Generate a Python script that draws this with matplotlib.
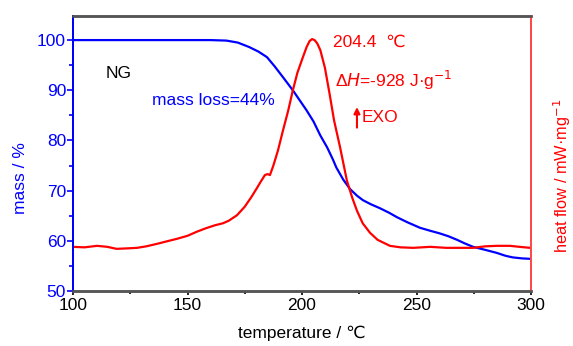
import matplotlib
matplotlib.use("Agg")
import matplotlib.pyplot as plt
from matplotlib.ticker import MultipleLocator, NullLocator

plt.rcParams['font.family'] = ['Liberation Sans', 'DejaVu Sans']

# Mass (TG) curve
temp_mass = [100, 120, 140, 160, 167, 172, 177, 181, 184.7, 188, 191.7, 196, 199, 202, 205,
             208, 211, 213.5, 215, 218, 221, 224, 226.6, 230, 234, 238, 241.5, 246, 251.5,
             256, 260, 264, 267.7, 271, 274.7, 280, 285, 289, 292, 296, 300]
mass = [100, 100, 100, 100, 99.9, 99.5, 98.6, 97.7, 96.6, 94.8, 92.6, 90.0, 88.0, 86.0, 83.8,
        81.0, 78.6, 76.2, 74.6, 72.2, 70.3, 69.0, 68.1, 67.3, 66.5, 65.6, 64.7, 63.7, 62.6,
        62.0, 61.5, 60.9, 60.2, 59.5, 58.8, 58.2, 57.6, 57.0, 56.7, 56.5, 56.4]

# Heat flow (DSC) curve, arbitrary units
temp_heat = [100, 105, 110.5, 115, 119, 124, 128, 132, 136.7, 141, 145.4, 150, 154, 158,
             162, 165.5, 168, 171.6, 175, 178, 180.3, 182, 183.8, 185, 186, 187.5, 189.5,
             191.7, 194, 196, 198, 200.4, 202, 203.3, 204.4, 205.5, 206.7, 208, 210, 212,
             214, 216.6, 219.6, 222, 224, 226.5, 229.7, 233, 238.4, 243, 248.5, 256, 263,
             268, 274.7, 280, 285, 290.8, 295, 299.6]
heat = [58.8, 58.7, 59.0, 58.8, 58.4, 58.5, 58.6, 58.9, 59.4, 59.9, 60.4, 61.0, 61.8, 62.5,
        63.1, 63.5, 64.0, 65.1, 66.8, 68.8, 70.5, 71.8, 73.1, 73.3, 73.1, 75.0, 78.0,
        82.0, 86.0, 90.0, 93.5, 96.6, 98.6, 99.8, 100.2, 100.0, 99.3, 98.0, 94.5, 89.4,
        84.0, 78.7, 72.0, 68.5, 66.0, 63.5, 61.6, 60.2, 59.0, 58.7, 58.6, 58.8, 58.6,
        58.6, 58.6, 58.9, 59.0, 59.0, 58.8, 58.6]

fig = plt.figure(figsize=(5.73, 3.46), dpi=100)
ax = fig.add_axes([73/573, 1-291/346, (531-73)/573, (291-16)/346])
ax2 = ax.twinx()

ax.plot(temp_mass, mass, color='#0000ff', lw=1.6, zorder=3)
ax2.plot(temp_heat, heat, color='#ff0000', lw=1.6)

ax.set_xlim(100, 300)
ax.set_ylim(50, 104.8)
ax2.set_ylim(50, 104.8)

ax.xaxis.set_major_locator(MultipleLocator(50))
ax.xaxis.set_minor_locator(MultipleLocator(25))
ax.yaxis.set_major_locator(MultipleLocator(10))
ax.yaxis.set_minor_locator(MultipleLocator(5))
ax2.yaxis.set_major_locator(NullLocator())
ax2.yaxis.set_minor_locator(NullLocator())

ax.tick_params(axis='x', which='both', direction='out', colors='black', labelsize=12.5,
               length=3, width=1.2, pad=2)
ax.tick_params(axis='x', which='minor', length=2)
ax.tick_params(axis='y', which='both', direction='out', colors='#0000ff', labelsize=12.5,
               length=4, width=1.2, pad=1)
ax.tick_params(axis='y', which='minor', length=3)

for a in (ax, ax2):
    a.spines['top'].set_color('#555555')
    a.spines['top'].set_linewidth(1.8)
    a.spines['bottom'].set_color('#555555')
    a.spines['bottom'].set_linewidth(1.8)
    a.spines['left'].set_color('#0000ff')
    a.spines['left'].set_linewidth(1.4)
    a.spines['right'].set_color('#ff4848')
    a.spines['right'].set_linewidth(1.4)

ax.set_xlabel('temperature / ℃', fontsize=12.5, color='black', labelpad=9)
ax.set_ylabel('mass / %', fontsize=12.5, color='#0000ff')
ax.yaxis.set_label_coords(-0.098, 0.41)
ax2.set_ylabel('heat flow / mW·mg$^{-1}$', fontsize=11.8, color='#ff0000')
ax2.yaxis.set_label_coords(1.044, 0.42)

ax.text(114.4, 93.4, 'NG', fontsize=12.5, color='black', va='center', ha='left')
ax.text(134.5, 88.0, 'mass loss=44%', fontsize=12.5, color='#0000ff', va='center', ha='left')
ax.text(213.5, 99.6, '204.4  ℃', fontsize=12.5, color='#ff0000', va='center', ha='left')
ax.text(214.5, 92.0, 'Δ$\\it{H}$=-928 J·g$^{-1}$', fontsize=12.5, color='#ff0000',
        va='center', ha='left')
ax.annotate('', xy=(224, 87.2), xytext=(224, 82.0),
            arrowprops=dict(arrowstyle='-|>', color='#ff0000', lw=1.5, mutation_scale=9))
ax.text(226.2, 84.6, 'EXO', fontsize=12.5, color='#ff0000', va='center', ha='left')

fig.savefig('out.png', dpi=100)
